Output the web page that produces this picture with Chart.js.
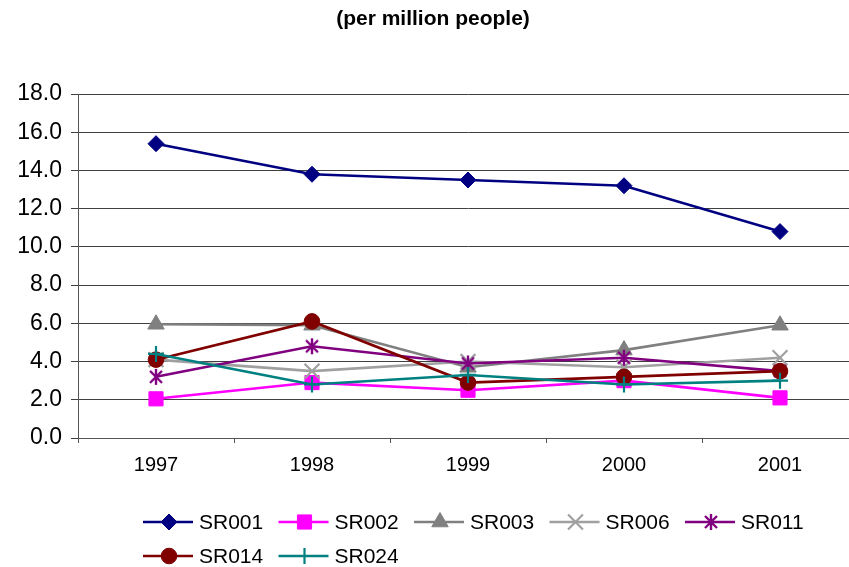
<!DOCTYPE html>
<html>
<head>
<meta charset="utf-8">
<script src="https://cdn.jsdelivr.net/npm/chart.js@4/dist/chart.umd.min.js"></script>
<style>
  html, body { margin: 0; padding: 0; background: #fff; overflow: hidden; }
  #wrap { width: 849px; height: 567px; overflow: hidden; position: relative; }
  canvas { display: block; }
</style>
</head>
<body>
<div id="wrap"><canvas id="c" width="880" height="567"></canvas></div>
<script>
// Years on the category axis
const years = ['1997', '1998', '1999', '2000', '2001'];

// Rates per million people, one array per region
const sr001 = [15.4, 13.8, 13.5, 13.2, 10.8];
const sr002 = [2.05, 2.9, 2.5, 3.0, 2.1];
const sr003 = [5.95, 5.9, 3.7, 4.6, 5.9];
const sr006 = [4.1, 3.5, 4.0, 3.7, 4.2];
const sr011 = [3.2, 4.8, 3.9, 4.2, 3.5];
const sr014 = [4.1, 6.1, 2.9, 3.2, 3.5];
const sr024 = [4.4, 2.8, 3.3, 2.8, 3.0];

const seriesNames = ['SR001', 'SR002', 'SR003', 'SR006', 'SR011', 'SR014', 'SR024'];
const seriesValues = [sr001, sr002, sr003, sr006, sr011, sr014, sr024];

// y-axis ticks
const yMin = 0, yMax = 18, yStep = 2;

const chartTitle = '(per million people)';

// Asterisk marker: an "x" with a vertical stroke through it
function asterisk(color) {
  const s = 18;
  const cv = document.createElement('canvas');
  cv.width = s; cv.height = s;
  const g = cv.getContext('2d');
  g.strokeStyle = color;
  g.lineWidth = 2.4;
  g.beginPath();
  g.moveTo(3, 3); g.lineTo(s - 3, s - 3);
  g.moveTo(s - 3, 3); g.lineTo(3, s - 3);
  g.moveTo(s / 2, 1); g.lineTo(s / 2, s - 1);
  g.stroke();
  return cv;
}

const styles = [
  { color: '#000080', pointStyle: 'rectRot', radius: 8, border: 1 },
  { color: '#FF00FF', pointStyle: 'rect', radius: 10, border: 1 },
  { color: '#808080', pointStyle: 'triangle', radius: 9.5, border: 1 },
  { color: '#A0A0A0', pointStyle: 'crossRot', radius: 10.5, border: 2.2 },
  { color: '#800080', pointStyle: asterisk('#800080'), radius: 9, border: 1 },
  { color: '#800000', pointStyle: 'circle', radius: 7.8, border: 1 },
  { color: '#008080', pointStyle: 'cross', radius: 8, border: 2.2 }
];

const datasets = seriesNames.map((name, i) => ({
  label: name,
  data: seriesValues[i],
  borderColor: styles[i].color,
  backgroundColor: styles[i].color,
  borderWidth: 2.6,
  pointStyle: styles[i].pointStyle,
  pointRadius: styles[i].radius,
  pointHoverRadius: styles[i].radius,
  pointBorderWidth: styles[i].border,
  pointBorderColor: styles[i].color,
  pointBackgroundColor: styles[i].color,
  tension: 0,
  order: seriesNames.length - 1 - i
}));

const FONT = '"Liberation Sans", Arial, sans-serif';

// Title and two-row legend drawn on the same canvas
const decorations = {
  id: 'decorations',
  afterDraw(chart) {
    const ctx = chart.ctx;
    ctx.save();
    ctx.fillStyle = '#000';
    ctx.font = 'bold 21px ' + FONT;
    ctx.textAlign = 'center';
    ctx.textBaseline = 'middle';
    ctx.fillText(chartTitle, 433, 19);

    const startX = 143, pitch = 135.5, rows = [522, 556];
    ctx.font = '21px ' + FONT;
    ctx.textAlign = 'left';
    chart.data.datasets.forEach((ds, i) => {
      const x0 = startX + (i % 5) * pitch;
      const y = rows[Math.floor(i / 5)];
      ctx.strokeStyle = ds.borderColor;
      ctx.lineWidth = 2.6;
      ctx.beginPath();
      ctx.moveTo(x0, y);
      ctx.lineTo(x0 + 50, y);
      ctx.stroke();
      ctx.fillStyle = ds.pointBackgroundColor;
      ctx.strokeStyle = ds.pointBorderColor;
      ctx.lineWidth = ds.pointBorderWidth;
      Chart.helpers.drawPoint(ctx, {
        pointStyle: ds.pointStyle,
        radius: ds.pointRadius,
        rotation: 0,
        borderWidth: ds.pointBorderWidth
      }, x0 + 26, y);
      ctx.fillStyle = '#000';
      ctx.fillText(ds.label, x0 + 56, y + 1);
    });
    ctx.restore();
  }
};

new Chart(document.getElementById('c'), {
  type: 'line',
  data: { labels: years, datasets },
  options: {
    responsive: false,
    devicePixelRatio: 1,
    animation: false,
    layout: { padding: { left: 0, top: 94, right: 22, bottom: 89 } },
    plugins: {
      legend: { display: false },
      title: { display: false },
      tooltip: { enabled: false }
    },
    scales: {
      x: {
        offset: true,
        afterFit(scale) { scale.height = 40; },
        grid: {
          offset: true,
          drawOnChartArea: false,
          drawTicks: true,
          tickLength: 5,
          color: '#555',
          lineWidth: 1
        },
        border: { color: '#555', width: 1 },
        ticks: {
          color: '#000',
          font: { family: FONT, size: 20 },
          padding: 10,
          maxRotation: 0
        }
      },
      y: {
        min: yMin,
        max: yMax,
        afterFit(scale) { scale.width = 78; },
        grid: {
          color: '#404040',
          lineWidth: 1,
          tickLength: 7,
          drawTicks: true
        },
        border: { color: '#555', width: 1 },
        ticks: {
          stepSize: yStep,
          color: '#000',
          font: { family: FONT, size: 23 },
          padding: 9,
          callback: v => Number(v).toFixed(1)
        }
      }
    }
  },
  plugins: [decorations]
});
</script>
</body>
</html>
